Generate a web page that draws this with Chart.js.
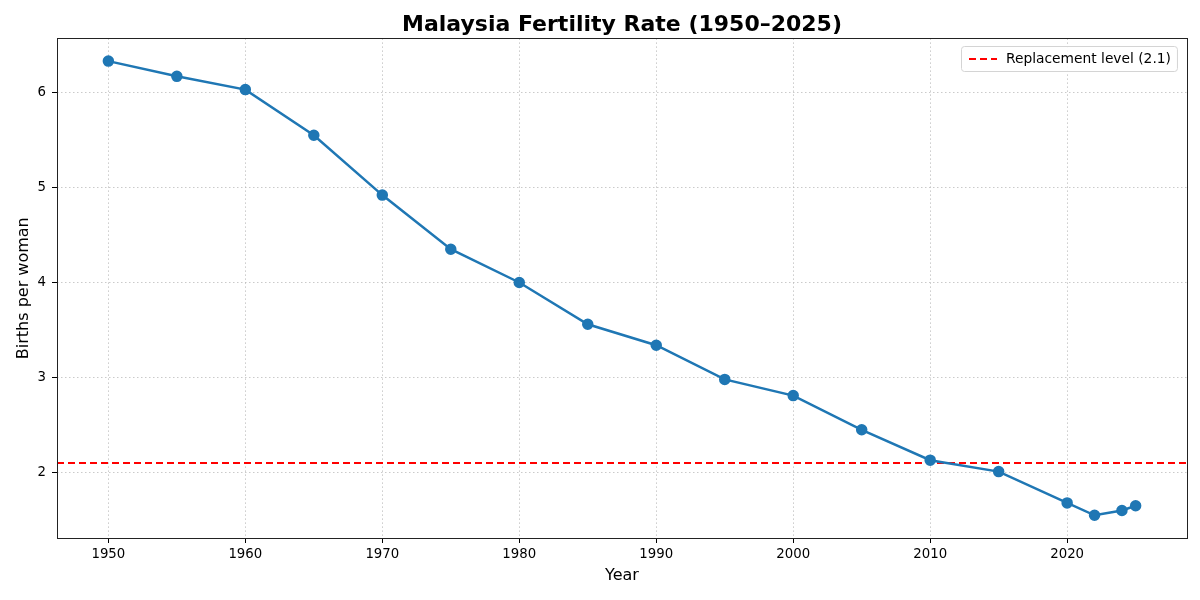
<!DOCTYPE html>
<html>
<head>
<meta charset="utf-8">
<script src="https://cdn.jsdelivr.net/npm/chart.js@4.4.1/dist/chart.umd.min.js"></script>
<style>
  body { margin: 0; background: #fff; }
  canvas { display: block; }
</style>
</head>
<body>
<canvas id="fertilityChart" width="1200" height="600"></canvas>
<script>
// data
const years = [1950, 1955, 1960, 1965, 1970, 1975, 1980, 1985, 1990, 1995, 2000, 2005, 2010, 2015, 2020, 2022, 2024, 2025];
const rates = [6.33, 6.17, 6.03, 5.55, 4.92, 4.35, 4.00, 3.56, 3.34, 2.98, 2.81, 2.45, 2.13, 2.01, 1.68, 1.55, 1.60, 1.65];
const replacementLevel = 2.1;
const xTicks = [1950, 1960, 1970, 1980, 1990, 2000, 2010, 2020];
const yTicks = [2, 3, 4, 5, 6];
const xMin = 1946.25, xMax = 2028.75;
const yMin = 1.311, yMax = 6.569;

const FONT = "'DejaVu Sans', sans-serif";

// full frame round the plot and a matplotlib-style legend box in the upper right
const framePlugin = {
  id: 'frame',
  afterDatasetsDraw(chart) {
    const ctx = chart.ctx;
    const a = chart.chartArea;
    ctx.save();
    ctx.strokeStyle = '#222';
    ctx.lineWidth = 1;
    ctx.strokeRect(Math.round(a.left) + 0.5, Math.round(a.top) + 0.5,
      Math.round(a.right - a.left), Math.round(a.bottom - a.top));

    const ds = chart.data.datasets[1];
    ctx.font = '13.8px ' + FONT;
    const tw = ctx.measureText(ds.label).width;
    const w = 8 + 28 + 9 + tw + 6;
    const h = 25;
    const x = Math.round(a.right - 10 - w), y = Math.round(a.top + 8);
    ctx.fillStyle = 'rgba(255,255,255,0.9)';
    ctx.strokeStyle = '#d4d4d4';
    ctx.beginPath();
    ctx.roundRect(x + 0.5, y + 0.5, w, h, 3);
    ctx.fill();
    ctx.stroke();
    ctx.strokeStyle = ds.borderColor;
    ctx.lineWidth = ds.borderWidth;
    ctx.setLineDash(ds.borderDash);
    ctx.beginPath();
    ctx.moveTo(x + 8, y + h / 2 + 0.5);
    ctx.lineTo(x + 36, y + h / 2 + 0.5);
    ctx.stroke();
    ctx.setLineDash([]);
    ctx.fillStyle = '#000';
    ctx.textBaseline = 'middle';
    ctx.fillText(ds.label, x + 45, y + h / 2 + 1);
    ctx.restore();
  }
};

const chartEl = document.getElementById('fertilityChart');
new Chart(chartEl, {
  type: 'line',
  data: {
    datasets: [
    {
      label: 'Fertility rate',
      data: years.map((y, i) => ({x: y, y: rates[i]})),
      borderColor: '#1f77b4',
      backgroundColor: '#1f77b4',
      borderWidth: 2.5,
      pointRadius: 4.5,
      pointHoverRadius: 4.5,
      tension: 0
    },
    {
      label: 'Replacement level (2.1)',
      data: [{x: xMin, y: replacementLevel}, {x: xMax, y: replacementLevel}],
      borderColor: '#ff0000',
      backgroundColor: '#ff0000',
      borderWidth: 2,
      borderDash: [7, 4],
      pointRadius: 0
    }]
  },
  options: {
    responsive: false,
    animation: false,
    devicePixelRatio: 1,
    layout: { padding: { left: 0, right: 13, top: 0, bottom: 0 } },
    plugins: {
      title: {
        display: true,
        text: 'Malaysia Fertility Rate (1950–2025)',
        fullSize: false,
        color: '#000',
        font: { family: FONT, size: 22, weight: 'bold' },
        padding: { top: 12, bottom: 0 }
      },
      legend: { display: false },
      tooltip: { enabled: false }
    },
    scales: {
      x: {
        type: 'linear',
        min: xMin,
        max: xMax,
        afterBuildTicks: s => { s.ticks = xTicks.map(v => ({value: v})); },
        afterFit: s => { s.height = 62; },
        ticks: {
          callback: v => String(v),
          color: '#000',
          font: { family: FONT, size: 13.3 },
          padding: 4,
          maxRotation: 0
        },
        grid: {
          color: 'rgba(180,180,180,0.7)',
          tickColor: '#000',
          tickLength: 5,
          lineWidth: 1
        },
        border: { display: false, dash: [1.5, 2.5] },
        title: {
          display: true,
          text: 'Year',
          color: '#000',
          font: { family: FONT, size: 16 },
          padding: { top: 0, bottom: 15 }
        }
      },
      y: {
        min: yMin,
        max: yMax,
        afterBuildTicks: s => { s.ticks = yTicks.map(v => ({value: v})); },
        afterFit: s => { s.width = 57; },
        ticks: {
          callback: v => String(v),
          color: '#000',
          font: { family: FONT, size: 13.3 },
          padding: 6
        },
        grid: {
          color: 'rgba(180,180,180,0.7)',
          tickColor: '#000',
          tickLength: 5,
          lineWidth: 1
        },
        border: { display: false, dash: [1.5, 2.5] },
        title: {
          display: true,
          text: 'Births per woman',
          color: '#000',
          font: { family: FONT, size: 16 },
          padding: { top: 14, bottom: 0 }
        }
      }
    }
  },
  plugins: [framePlugin]
});
</script>
</body>
</html>
